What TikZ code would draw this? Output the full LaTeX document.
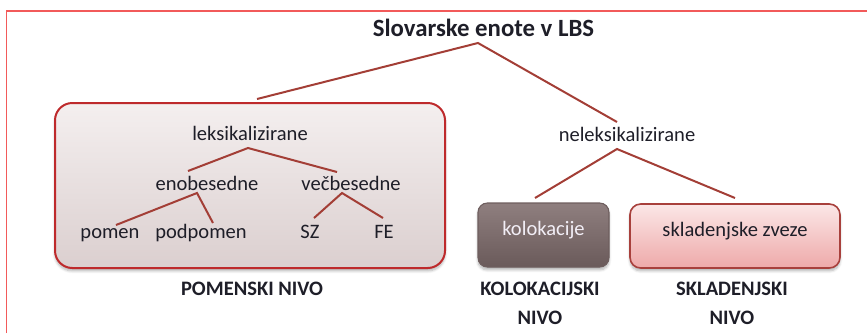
\documentclass[tikz,border=0pt]{standalone}
\usepackage{fontspec}
\setmainfont{Carlito}
\usetikzlibrary{shadows.blur}
\definecolor{framered}{HTML}{F25A5A}
\definecolor{linkred}{HTML}{A33E36}
\definecolor{boxred}{HTML}{BE2A2C}
\definecolor{inktext}{HTML}{1E1E28}
\definecolor{lextop}{HTML}{F4EFEF}
\definecolor{lexbot}{HTML}{DBCFCF}
\definecolor{coltop}{HTML}{8F7F7F}
\definecolor{colbot}{HTML}{6A5A5A}
\definecolor{coledge}{HTML}{6E5E5E}
\definecolor{coltext}{HTML}{F2EEF6}
\definecolor{syntop}{HTML}{FBE7E7}
\definecolor{synbot}{HTML}{EEA9A9}
\definecolor{synedge}{HTML}{A8403C}
\begin{document}
\begin{tikzpicture}[x=0.75pt,y=-0.75pt,
  every node/.style={inner sep=0pt,outer sep=0pt,text=inktext},
  body/.style={font=\fontsize{15.4}{18}\selectfont,anchor=base},
  heading/.style={font=\bfseries\fontsize{18.6}{22}\selectfont,anchor=base},
  levellabel/.style={font=\bfseries\fontsize{15.4}{18}\selectfont,anchor=base},
  link/.style={draw=linkred,line width=1.5pt},
  softshadow/.style={blur shadow={shadow xshift=0pt,shadow yshift=-2.2pt,shadow opacity=30,shadow blur steps=6}},
  lexbox/.style={draw=boxred,line width=1.5pt,rounded corners=13pt,top color=lextop,bottom color=lexbot,softshadow,
    minimum width=292.5pt,minimum height=123.75pt},
  colbox/.style={draw=coledge,line width=0.8pt,rounded corners=7pt,top color=coltop,bottom color=colbot,softshadow,
    minimum width=98.25pt,minimum height=48pt,text=coltext,font=\fontsize{15.4}{18}\selectfont,text height=0.5em,text depth=0.5em},
  synbox/.style={draw=synedge,line width=1.2pt,rounded corners=8pt,top color=syntop,bottom color=synbot,softshadow,
    minimum width=157.5pt,minimum height=48pt,font=\fontsize{15.4}{18}\selectfont,text height=0.5em,text depth=0.5em}]
\useasboundingbox (0,0) rectangle (867,333);

% outer frame (top and left edges)
\draw[framered,line width=1.1pt] (6.5,333) -- (6.5,11) -- (867,11);

% title
\node[heading] (title) at (483.5,36) {Slovarske enote v LBS};
\coordinate (titleb) at (478,43);

% lexicalised units box
\node[lexbox] (lex) at (250,185.5) {};
\coordinate (lexjoin) at (257,99);

\node[body] (leks) at (250,140) {leksikalizirane};
\coordinate (leksb) at (248,148);
\node[body] (eno) at (207,190) {enobesedne};
\coordinate (enot) at (188,171);
\coordinate (enob) at (197,193);
\node[body] (vec) at (351,190) {večbesedne};
\coordinate (vect) at (337,172);
\coordinate (vecb) at (342,193);
\node[body] (pomen) at (110,238) {pomen};
\coordinate (poment) at (116,225);
\node[body] (podpomen) at (201,238) {podpomen};
\coordinate (podpoment) at (213,223);
\node[body] (sz) at (310,238) {SZ};
\coordinate (szt) at (314,218);
\node[body] (fe) at (384,238) {FE};
\coordinate (fet) at (383,218);

% non-lexicalised branch
\node[body] (nelex) at (627,141) {neleksikalizirane};
\coordinate (nelext) at (617,122);
\coordinate (nelexb) at (617,149);

\node[colbox] (kol) at (543.5,235) {kolokacije};
\coordinate (kolt) at (535,198);
\node[synbox] (skl) at (735,236) {skladenjske zveze};
\coordinate (sklt) at (735,198);

% level captions
\node[levellabel] (pomnivo) at (252,295) {POMENSKI NIVO};
\node[levellabel] (kolnivo1) at (540,295) {KOLOKACIJSKI};
\node[levellabel] (kolnivo2) at (540,324) {NIVO};
\node[levellabel] (sklnivo1) at (732,295) {SKLADENJSKI};
\node[levellabel] (sklnivo2) at (732,324) {NIVO};

% tree connectors
\draw[link] (lexjoin) -- (titleb) -- (nelext);
\draw[link] (enot) -- (leksb) -- (vect);
\draw[link] (poment) -- (enob) -- (podpoment);
\draw[link] (szt) -- (vecb) -- (fet);
\draw[link] (kolt) -- (nelexb) -- (sklt);
\end{tikzpicture}
\end{document}
